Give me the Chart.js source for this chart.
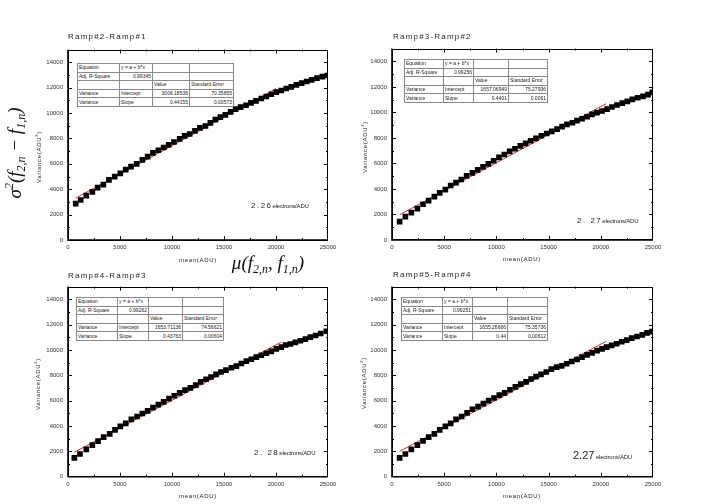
<!DOCTYPE html>
<html>
<head>
<meta charset="utf-8">
<script src="https://cdn.jsdelivr.net/npm/chart.js@4.4.0/dist/chart.umd.min.js"></script>
<style>
body { margin: 0; width: 706px; height: 504px; background: #fff; position: relative; overflow: hidden; font-family: "Liberation Sans", Arial, sans-serif; color: #222; }
canvas { position: absolute; }
.ttl { position: absolute; font-size: 8px; line-height: 9px; letter-spacing: 1.2px; white-space: nowrap; }
.xl { position: absolute; font-size: 6px; line-height: 7px; letter-spacing: 0.7px; white-space: nowrap; transform: translate(-50%, -50%); }
.yl { position: absolute; font-size: 6px; line-height: 7px; letter-spacing: 0.7px; white-space: nowrap; transform: translate(-50%, -50%) rotate(-90deg); }
.note { position: absolute; font-size: 6px; line-height: 10px; white-space: nowrap; transform: translateY(-50%); letter-spacing: -0.2px; }
.note b { font-weight: normal; font-size: 8px; letter-spacing: 1.5px; }
.note b.big { font-size: 11px; letter-spacing: 0; }
.math { position: absolute; font-family: "Liberation Serif", "DejaVu Serif", serif; font-style: italic; font-size: 19px; white-space: nowrap; color: #111; }
.math sub { font-size: 12px; vertical-align: -4px; }
.math sup { font-size: 12px; vertical-align: 8px; }
table.fit { position: absolute; border-collapse: collapse; border: 1.5px solid #000; font-size: 5px; table-layout: fixed; background: #fff; }
table.fit td { border: 0.6px solid #888; padding: 0 1px; height: 7.6px; line-height: 7px; overflow: hidden; white-space: nowrap; }
table.fit td.r { text-align: right; }
</style>
</head>
<body>
<canvas id="c1" width="345" height="215" style="left:0px;top:40px"></canvas>
<canvas id="c2" width="346" height="215" style="left:360px;top:40px"></canvas>
<canvas id="c3" width="345" height="215" style="left:0px;top:278px"></canvas>
<canvas id="c4" width="346" height="215" style="left:360px;top:278px"></canvas>

<div class="ttl" style="left:68px;top:32px">Ramp#2-Ramp#1</div>
<div class="ttl" style="left:393px;top:32px">Ramp#3-Ramp#2</div>
<div class="ttl" style="left:68px;top:271px">Ramp#4-Ramp#3</div>
<div class="ttl" style="left:393px;top:270px">Ramp#5-Ramp#4</div>

<div class="xl" style="left:198px;top:260px">mean(ADU)</div>
<div class="xl" style="left:522px;top:259px">mean(ADU)</div>
<div class="xl" style="left:198px;top:496px">mean(ADU)</div>
<div class="xl" style="left:522px;top:496px">mean(ADU)</div>

<div class="yl" style="left:38px;top:157px">Variance(ADU<sup style="font-size:4px">2</sup>)</div>
<div class="yl" style="left:364px;top:147px">Variance(ADU<sup style="font-size:4px">2</sup>)</div>
<div class="yl" style="left:37px;top:384px">Variance(ADU<sup style="font-size:4px">2</sup>)</div>
<div class="yl" style="left:363px;top:383px">Variance(ADU<sup style="font-size:4px">2</sup>)</div>

<div class="note" style="left:251px;top:206px"><b>2.26</b>electrons/ADU</div>
<div class="note" style="left:577px;top:221px"><b>2. 27</b>electrons/ADU</div>
<div class="note" style="left:254px;top:453px"><b>2. 28</b>electrons/ADU</div>
<div class="note" style="left:573px;top:456px"><b class="big">2.27</b> electrons/ADU</div>

<div class="math" style="left:15px;top:153px;transform:translate(-50%,-50%) rotate(-90deg)">&sigma;<sup>2</sup>(f<sub>2,n</sub> &minus; f<sub>1,n</sub>)</div>
<div class="math" style="left:268px;top:264px;transform:translate(-50%,-50%)">&mu;(f<sub>2,n</sub>, f<sub>1,n</sub>)</div>

<script>
// tick labels
const xTicks = [0, 5000, 10000, 15000, 20000, 25000];
const yTicks = [0, 2000, 4000, 6000, 8000, 10000, 12000, 14000];

// Ramp#2-Ramp#1
const mean1 = [740,1220,1760,2340,2850,3400,3940,4490,5030,5550,6060,6600,7150,7660,8170,8690,9200,9680,10190,10740,11220,11700,12210,12690,13210,13690,14170,14650,15130,15640,16120,16600,17120,17600,18080,18590,19070,19550,20030,20510,20990,21470,21960,22470,22950,23430,23940,24460,24940];
const var1 = [2860,3150,3490,3780,4120,4360,4730,4990,5250,5540,5780,5990,6310,6570,6860,7070,7280,7490,7720,7960,8200,8350,8590,8830,8980,9220,9480,9670,9850,10090,10300,10460,10610,10800,10960,11140,11300,11480,11640,11770,11930,12060,12220,12350,12480,12610,12740,12870,12950];
const fitX1 = [740, 10000, 20000];
const fitY1 = [3300, 7420, 11920];

// Ramp#3-Ramp#2
const mean2 = [730,1280,1850,2430,2970,3510,4060,4570,5110,5620,6130,6640,7150,7700,8210,8720,9230,9740,10250,10760,11270,11780,12290,12800,13280,13790,14310,14820,15300,15810,16290,16760,17280,17720,18200,18680,19160,19640,20120,20600,21070,21550,22060,22540,23020,23530,24040,24520,24940];
const var2 = [1440,1830,2150,2460,2800,3090,3400,3690,3950,4270,4500,4740,5030,5260,5500,5730,5970,6210,6470,6700,6940,7150,7380,7570,7780,7960,8170,8350,8510,8690,8880,9060,9190,9350,9500,9660,9840,9980,10110,10260,10420,10580,10730,10870,11020,11150,11260,11390,11570];
const fitX2 = [730, 10000, 20500];
const fitY2 = [1980, 6060, 10680];

// Ramp#4-Ramp#3
const mean3 = [610,1150,1760,2340,2890,3430,4010,4520,5030,5550,6090,6640,7150,7660,8170,8690,9200,9710,10220,10740,11250,11760,12280,12760,13270,13750,14230,14710,15190,15710,16190,16670,17150,17630,18110,18590,19070,19550,20030,20510,20930,21380,21860,22340,22820,23300,23810,24300,24840];
const var3 = [1480,1790,2160,2490,2810,3120,3380,3690,3970,4210,4520,4750,4990,5190,5450,5690,5900,6160,6390,6620,6830,7010,7220,7480,7690,7870,8080,8260,8410,8600,8730,8930,9120,9270,9430,9580,9740,9890,10080,10230,10390,10470,10600,10730,10860,11010,11140,11300,11480];
const fitX3 = [610, 10000, 20500];
const fitY3 = [1930, 6030, 10620];

// Ramp#5-Ramp#4
const mean4 = [730,1280,1850,2430,2970,3510,4060,4570,5110,5620,6130,6670,7190,7700,8240,8750,9260,9770,10280,10790,11300,11820,12330,12840,13320,13790,14270,14780,15260,15770,16250,16730,17210,17720,18200,18680,19160,19640,20120,20560,21040,21520,22000,22480,22960,23470,23980,24430,24910];
const var4 = [1480,1790,2160,2490,2830,3120,3380,3690,3970,4210,4520,4750,5040,5320,5530,5770,6000,6210,6440,6620,6860,7090,7300,7480,7710,7900,8080,8260,8490,8650,8750,8910,9090,9250,9430,9610,9770,9950,10080,10230,10360,10490,10650,10780,10930,11060,11190,11350,11450];
const fitX4 = [730, 10000, 20500];
const fitY4 = [2000, 6060, 10680];

// fit result tables
const table1 = [['Equation','y = a + b*x','',''],['Adj. R-Square','0.99345','',''],['','','Value','Standard Error'],['Variance','Intercept','3006.18536','70.35855'],['Variance','Slope','0.44155','0.00573']];
const table2 = [['Equation','y = a + b*x','',''],['Adj. R-Square','0.99256','',''],['','','Value','Standard Error'],['Variance','Intercept','1657.06949','75.27936'],['Variance','Slope','0.4401','0.0061']];
const table3 = [['Equation','y = a + b*x','',''],['Adj. R-Square','0.99262','',''],['','','Value','Standard Error'],['Variance','Intercept','1653.71136','74.56621'],['Variance','Slope','0.43763','0.00604']];
const table4 = [['Equation','y = a + b*x','',''],['Adj. R-Square','0.99251','',''],['','','Value','Standard Error'],['Variance','Intercept','1655.26666','75.35736'],['Variance','Slope','0.44','0.00612']];

function makeTable(rows, left, top, widths) {
    const t = document.createElement('table');
    t.className = 'fit';
    t.style.left = left + 'px';
    t.style.top = top + 'px';
    t.style.width = widths.reduce((a, b) => a + b, 0) + 'px';
    const cg = document.createElement('colgroup');
    widths.forEach(w => {
        const c = document.createElement('col');
        c.style.width = w + 'px';
        cg.appendChild(c);
    });
    t.appendChild(cg);
    rows.forEach((row, ri) => {
        const tr = document.createElement('tr');
        row.forEach((txt, ci) => {
            const td = document.createElement('td');
            td.textContent = txt;
            // numbers sit on the right like in Origin
            if ((ri === 1 && ci === 1) || (ri > 2 && ci > 1)) td.className = 'r';
            tr.appendChild(td);
        });
        t.appendChild(tr);
    });
    document.body.appendChild(t);
}

makeTable(table1, 77, 63, [42, 33, 37, 44]);
makeTable(table2, 404, 59, [39, 30, 35, 39]);
makeTable(table3, 76, 297, [41, 31, 34, 41]);
makeTable(table4, 401, 297, [41, 30, 35, 40]);

// box with inward ticks on all four sides
const frame = {
    id: 'frame',
    afterDraw(chart) {
        const { ctx, chartArea: a } = chart;
        const x = chart.scales.x, y = chart.scales.y;
        ctx.save();
        ctx.strokeStyle = '#000';
        ctx.lineWidth = 1;
        ctx.strokeRect(Math.round(a.left) + 0.5, Math.round(a.top) + 0.5, Math.round(a.width) - 1, Math.round(a.height) - 1);
        ctx.lineWidth = 1.6;
        ctx.beginPath();
        ctx.moveTo(a.left, a.top);
        ctx.lineTo(a.left, a.bottom);
        ctx.lineTo(a.right, a.bottom);
        ctx.stroke();
        ctx.lineWidth = 1;
        ctx.beginPath();
        for (let v = 2500; v < 25000; v += 2500) {
            const len = v % 5000 ? 2 : 4;
            const px = Math.round(x.getPixelForValue(v)) + 0.5;
            ctx.moveTo(px, a.bottom); ctx.lineTo(px, a.bottom - len);
            ctx.moveTo(px, a.top); ctx.lineTo(px, a.top + len);
        }
        for (let v = 1000; v < 15000; v += 1000) {
            const len = v % 2000 ? 2 : 4;
            const py = Math.round(y.getPixelForValue(v)) + 0.5;
            ctx.moveTo(a.left, py); ctx.lineTo(a.left + len, py);
            ctx.moveTo(a.right, py); ctx.lineTo(a.right - len, py);
        }
        ctx.stroke();
        ctx.restore();
    }
};

function makeChart(id, xs, ys, fx, fy, pad) {
    return new Chart(document.getElementById(id), {
        type: 'scatter',
        data: {
            datasets: [{
                data: xs.map((v, i) => ({ x: v, y: ys[i] })),
                pointStyle: 'rect',
                pointRadius: 4,
                backgroundColor: '#000',
                borderWidth: 0,
                order: 0
            }, {
                type: 'line',
                data: fx.map((v, i) => ({ x: v, y: fy[i] })),
                borderColor: '#d0292e',
                borderWidth: 1,
                pointRadius: 0,
                fill: false,
                tension: 0,
                order: 1
            }]
        },
        options: {
            responsive: false,
            animation: false,
            layout: { padding: { top: pad.top, right: pad.right, left: 0, bottom: 0 } },
            plugins: { legend: { display: false }, tooltip: { enabled: false } },
            scales: {
                x: {
                    type: 'linear', min: 0, max: 25000,
                    afterBuildTicks: s => { s.ticks = xTicks.map(v => ({ value: v })); },
                    afterFit: s => { s.height = pad.xh; },
                    ticks: { font: { size: 6, family: 'Liberation Sans' }, color: '#333', padding: 4, maxRotation: 0, autoSkip: false, callback: v => String(v) },
                    grid: { display: false, drawTicks: false },
                    border: { display: false }
                },
                y: {
                    type: 'linear', min: 0, max: 15000,
                    afterBuildTicks: s => { s.ticks = yTicks.map(v => ({ value: v })); },
                    afterFit: s => { s.width = pad.yw; },
                    ticks: { font: { size: 6, family: 'Liberation Sans' }, color: '#333', padding: 5, autoSkip: false, callback: v => String(v) },
                    grid: { display: false, drawTicks: false },
                    border: { display: false }
                }
            }
        },
        plugins: [frame]
    });
}

makeChart('c1', mean1, var1, fitX1, fitY1, { top: 9.5, right: 17, yw: 68, xh: 15 });
makeChart('c2', mean2, var2, fitX2, fitY2, { top: 8, right: 53, yw: 32, xh: 15 });
makeChart('c3', mean3, var3, fitX3, fitY3, { top: 7, right: 17, yw: 68, xh: 16.3 });
makeChart('c4', mean4, var4, fitX4, fitY4, { top: 7, right: 53, yw: 32, xh: 16.3 });
</script>
</body>
</html>
